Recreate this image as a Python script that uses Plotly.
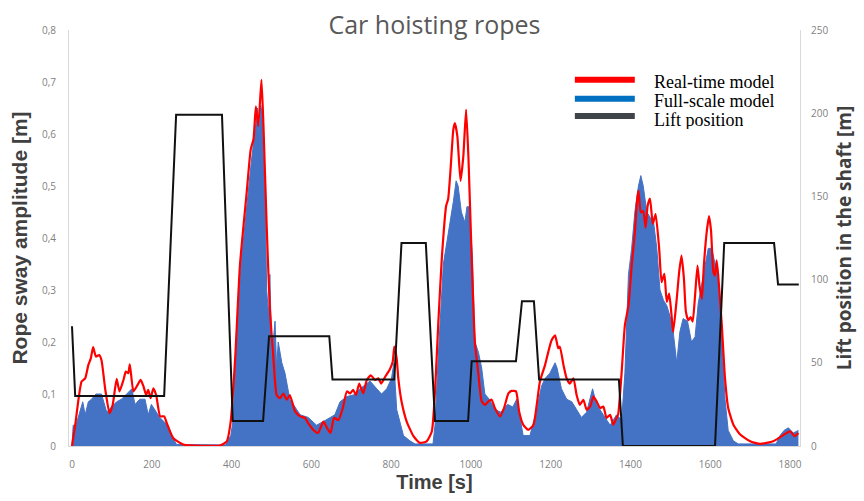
import plotly.graph_objects as go

# ---- data ----
time_blue = [0, 3, 10, 20, 27, 33, 41, 49, 60, 74, 87, 99, 112, 124, 137, 150, 158, 170, 183, 191,
             199, 212, 220, 233, 241, 250, 262, 385, 398, 404, 413, 425, 438, 450, 461, 465, 469,
             473, 477, 480, 484, 488, 493, 496, 501, 509, 513, 517, 526, 534, 546, 559, 572, 592,
             613, 630, 647, 659, 672, 689, 705, 722, 739, 747, 764, 776, 789, 801, 807, 814, 831,
             847, 860, 905, 910, 918, 931, 948, 956, 963, 968, 976, 985, 990, 996, 1004, 1010,
             1019, 1027, 1035, 1046, 1060, 1075, 1092, 1105, 1115, 1131, 1148, 1165, 1177, 1186,
             1198, 1211, 1216, 1227, 1240, 1253, 1265, 1277, 1290, 1305, 1315, 1332, 1349, 1365,
             1378, 1386, 1395, 1403, 1411, 1420, 1426, 1432, 1441, 1449, 1458, 1466, 1474, 1483,
             1491, 1499, 1507, 1516, 1524, 1532, 1543, 1553, 1562, 1570, 1583, 1595, 1604, 1612,
             1620, 1629, 1637, 1645, 1658, 1670, 1765, 1775, 1785, 1796, 1808, 1821]
full_scale = [0, 0.04, 0.04, 0.065, 0.085, 0.06, 0.085, 0.09, 0.1, 0.1, 0.065, 0.075, 0.085, 0.09,
              0.1, 0.11, 0.08, 0.09, 0.09, 0.06, 0.08, 0.065, 0.055, 0.045, 0.04, 0.02, 0.003,
              0.002, 0.02, 0.05, 0.23, 0.36, 0.46, 0.55, 0.62, 0.65, 0.6, 0.655, 0.64, 0.55, 0.49,
              0.3, 0.25, 0.33, 0.17, 0.24, 0.15, 0.2, 0.16, 0.14, 0.09, 0.075, 0.06, 0.055, 0.04,
              0.047, 0.054, 0.06, 0.085, 0.095, 0.098, 0.11, 0.12, 0.125, 0.11, 0.10, 0.11, 0.13,
              0.16, 0.07, 0.02, 0.01, 0.004, 0.004, 0.04, 0.17, 0.35, 0.43, 0.47, 0.51, 0.5, 0.45,
              0.43, 0.46, 0.46, 0.36, 0.2, 0.18, 0.15, 0.1, 0.09, 0.07, 0.065, 0.08, 0.075, 0.09,
              0.02, 0.02, 0.07, 0.115, 0.13, 0.14, 0.16, 0.15, 0.11, 0.09, 0.085, 0.07, 0.055,
              0.065, 0.11, 0.08, 0.06, 0.04, 0.06, 0.05, 0.14, 0.33, 0.38, 0.45, 0.50, 0.52, 0.50,
              0.45, 0.44, 0.43, 0.38, 0.30, 0.28, 0.27, 0.25, 0.22, 0.16, 0.22, 0.245, 0.24, 0.20,
              0.21, 0.275, 0.33, 0.38, 0.38, 0.35, 0.32, 0.20, 0.09, 0.03, 0.01, 0.004, 0.004,
              0.02, 0.03, 0.035, 0.025, 0.03]

time_red = [0, 8, 24, 33, 41, 47, 53, 60, 68, 74, 83, 94, 102, 112, 119, 129, 135, 141, 145, 154,
            164, 172, 179, 186, 191, 197, 204, 211, 221, 231, 239, 254, 279, 371, 388, 398, 409,
            421, 438, 448, 455, 461, 467, 475, 480, 488, 496, 505, 513, 521, 530, 538, 546, 559,
            572, 584, 592, 605, 617, 630, 640, 648, 657, 668, 679, 689, 697, 705, 712, 720, 730,
            739, 749, 760, 768, 775, 785, 796, 804, 808, 814, 818, 826, 839, 856, 872, 889, 902,
            910, 918, 927, 938, 943, 949, 956, 960, 966, 974, 981, 988, 994, 1002, 1010, 1019,
            1027, 1035, 1044, 1052, 1060, 1073, 1083, 1094, 1102, 1113, 1121, 1131, 1144, 1157,
            1165, 1173, 1186, 1194, 1202, 1211, 1219, 1223, 1232, 1240, 1248, 1257, 1265, 1273,
            1282, 1290, 1299, 1307, 1315, 1324, 1332, 1340, 1349, 1357, 1365, 1369, 1378, 1386,
            1395, 1403, 1411, 1416, 1420, 1426, 1432, 1438, 1443, 1449, 1456, 1463, 1472, 1478,
            1485, 1491, 1497, 1503, 1507, 1516, 1522, 1528, 1534, 1539, 1545, 1551, 1556, 1562,
            1568, 1573, 1579, 1584, 1591, 1597, 1602, 1608, 1612, 1616, 1620, 1629, 1637, 1645,
            1658, 1675, 1700, 1725, 1758, 1779, 1800, 1812, 1821]
real_time = [0, 0.04, 0.124, 0.13, 0.156, 0.168, 0.19, 0.172, 0.175, 0.165, 0.111, 0.063, 0.079,
             0.129, 0.105, 0.127, 0.143, 0.14, 0.157, 0.105, 0.117, 0.127, 0.115, 0.098, 0.108,
             0.092, 0.111, 0.098, 0.057, 0.057, 0.041, 0.015, 0.003, 0.001, 0.009, 0.048, 0.168,
             0.347, 0.488, 0.57, 0.59, 0.653, 0.615, 0.704, 0.615, 0.424, 0.264, 0.168, 0.098,
             0.092, 0.101, 0.089, 0.098, 0.067, 0.057, 0.054, 0.044, 0.031, 0.025, 0.047, 0.034,
             0.025, 0.054, 0.05, 0.073, 0.105, 0.101, 0.108, 0.098, 0.12, 0.101, 0.127, 0.136,
             0.127, 0.13, 0.12, 0.133, 0.146, 0.162, 0.191, 0.168, 0.13, 0.086, 0.047, 0.019,
             0.006, 0.009, 0.028, 0.105, 0.232, 0.36, 0.462, 0.475, 0.532, 0.609, 0.621, 0.596,
             0.51, 0.557, 0.647, 0.551, 0.36, 0.2, 0.136, 0.086, 0.079, 0.086, 0.089, 0.073,
             0.057, 0.073, 0.101, 0.106, 0.105, 0.066, 0.041, 0.031, 0.041, 0.079, 0.124, 0.156,
             0.181, 0.203, 0.213, 0.188, 0.191, 0.156, 0.13, 0.12, 0.13, 0.098, 0.079, 0.089,
             0.07, 0.076, 0.095, 0.086, 0.073, 0.076, 0.054, 0.06, 0.041, 0.054, 0.06, 0.143,
             0.232, 0.27, 0.347, 0.411, 0.468, 0.491, 0.449, 0.452, 0.42, 0.462, 0.476, 0.427,
             0.446, 0.379, 0.315, 0.331, 0.277, 0.293, 0.251, 0.219, 0.283, 0.334, 0.366, 0.322,
             0.258, 0.242, 0.248, 0.239, 0.29, 0.347, 0.309, 0.283, 0.347, 0.411, 0.442, 0.414,
             0.334, 0.328, 0.357, 0.328, 0.232, 0.13, 0.073, 0.041, 0.022, 0.009, 0.004, 0.009,
             0.019, 0.028, 0.019, 0.025]

time_lift = [0, 8, 231, 261, 376, 403, 479, 494, 645, 653, 808, 826, 887, 910, 993, 1002, 1113,
             1128, 1158, 1171, 1371, 1381, 1612, 1635, 1760, 1770, 1822]
lift_position = [72, 30, 30, 199, 199, 15, 15, 66, 66, 40, 40, 122, 122, 15, 15, 51, 51, 87, 87,
                 40, 40, 0, 0, 122, 122, 97, 97]

left_ticks = [0, 0.1, 0.2, 0.3, 0.4, 0.5, 0.6, 0.7, 0.8]
left_tick_text = ["0", "0,1", "0,2", "0,3", "0,4", "0,5", "0,6", "0,7", "0,8"]
right_ticks = [0, 50, 100, 150, 200, 250]
x_ticks = [0, 200, 400, 600, 800, 1000, 1200, 1400, 1600, 1800]

legend_names = ["Real-time model", "Full-scale model", "Lift position"]
legend_colors = ["#FF0000", "#0070C0", "#3F4448"]

# ---- figure ----
fig = go.Figure()
fig.add_trace(go.Scatter(x=time_blue, y=full_scale, mode="lines", fill="tozeroy",
                         line=dict(color="#4472C4", width=1), fillcolor="#4472C4",
                         name="Full-scale model", showlegend=False))
fig.add_trace(go.Scatter(x=time_red, y=real_time, mode="lines",
                         line=dict(color="#FF0000", width=2.2, shape="spline", smoothing=0.5),
                         name="Real-time model", showlegend=False))
fig.add_trace(go.Scatter(x=time_lift, y=lift_position, mode="lines", yaxis="y2",
                         line=dict(color="#111111", width=2),
                         name="Lift position", showlegend=False))

tick_font = dict(family="Open Sans", size=10, color="#7F7F7F")
fig.update_layout(
    width=864, height=501,
    margin=dict(l=69, r=64, t=30, b=53),
    paper_bgcolor="white", plot_bgcolor="white",
    title=dict(text="Car hoisting ropes", x=0.5, xanchor="center", xref="paper",
               y=1 - 25 / 501, yanchor="middle",
               font=dict(family="Open Sans", size=25, color="#595959")),
    xaxis=dict(range=[-7.5, 1825], tickvals=x_ticks, showgrid=False, zeroline=False,
               showline=True, linecolor="#D9D9D9", linewidth=1, ticks="",
               ticklabelstandoff=9, tickfont=tick_font,
               title=dict(text="<b>Time [s]</b>", standoff=4,
                          font=dict(family="Liberation Sans", size=20, color="#404040"))),
    yaxis=dict(range=[0, 0.8], tickvals=left_ticks, ticktext=left_tick_text, showgrid=False,
               zeroline=False, showline=True, linecolor="#D9D9D9", linewidth=1, ticks="",
               ticklabelstandoff=10, tickfont=tick_font,
               title=dict(text="<b>Rope sway amplitude [m]</b>", standoff=8,
                          font=dict(family="Liberation Sans", size=21, color="#404040"))),
    yaxis2=dict(range=[0, 250], tickvals=right_ticks, overlaying="y", side="right",
                showgrid=False, zeroline=False, showline=True, linecolor="#D9D9D9",
                linewidth=1, ticks="", ticklabelstandoff=8, tickfont=tick_font,
                title=dict(text="<b>Lift position in the shaft [m]</b>", standoff=10,
                           font=dict(family="Open Sans", size=19, color="#404040"))),
)

# manual legend (lines + labels) in paper coordinates (plot area: y 30..448 px)
line_px = [80, 99, 116.5]
text_px = [82, 101, 120]
for name, color, lp, tp in zip(legend_names, legend_colors, line_px, text_px):
    ly = (448 - lp) / 418
    ty = (448 - tp) / 418
    fig.add_shape(type="line", xref="paper", yref="paper", x0=0.692, x1=0.774, y0=ly, y1=ly,
                  line=dict(color=color, width=6))
    fig.add_annotation(text=name, xref="paper", yref="paper", x=0.797, y=ty, xanchor="left",
                       yanchor="middle", showarrow=False, height=18, valign="middle",
                       font=dict(family="Liberation Serif", size=18, color="#000000"))

fig.write_html("out.html")
